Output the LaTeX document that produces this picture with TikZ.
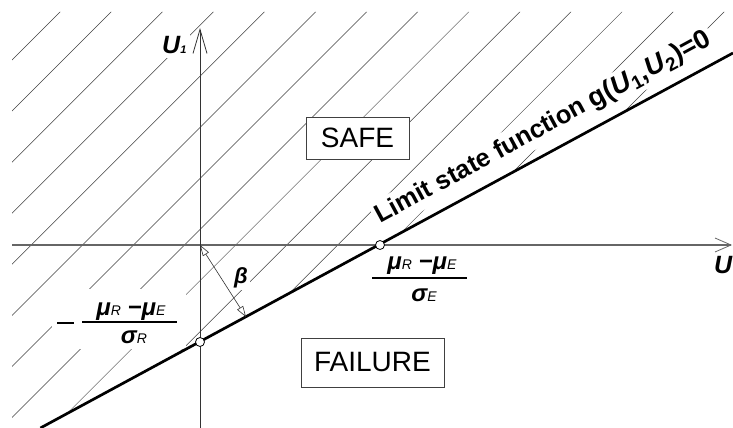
\documentclass[tikz,border=0pt]{standalone}
\usepackage{fontspec}
\setmainfont{Liberation Sans}
\usetikzlibrary{arrows.meta}
\newcommand\smallsub[1]{{\fontsize{14}{14}\selectfont\mdseries #1}}
\begin{document}
\begin{tikzpicture}[x=1pt,y=-1pt,
  hatchline/.style={draw=black!75,line width=0.5pt},
  axisline/.style={draw=black!80,line width=0.9pt},
  limitline/.style={draw=black,line width=2.7pt},
  regionbox/.style={draw=black!75,line width=0.9pt,fill=white,font=\fontsize{28}{30}\selectfont,inner sep=0pt},
  pointmark/.style={circle,draw=black,fill=white,line width=0.8pt,inner sep=0pt,minimum size=9pt},
  greek/.style={font=\fontsize{24}{26}\selectfont\bfseries\itshape,inner sep=1pt},
  axislabel/.style={font=\fontsize{25}{27}\selectfont\bfseries\itshape,inner sep=1pt},
  mask/.style={fill=white},
  fracbar/.style={draw=black,line width=2.6pt}
]
\useasboundingbox (0,0) rectangle (733,428);
\fill[white] (0,0) rectangle (733,428);

% hatching of the safe region
\begin{scope}
  \clip (12,12) -- (733,12) -- (733,53) -- (40.4,428) -- (12,428) -- cycle;
  \foreach \k in {0,...,14}{
    \pgfmathsetmacro\hc{72+51.08*\k}
    \draw[hatchline] ({\hc-440},440) -- ({\hc+10},-10);
  }
\end{scope}

% white area behind the left fraction
\fill[white] (52,289) rectangle (186,349);

% labels
\node[regionbox,minimum width=103pt,minimum height=42pt] (safe) at (357.5,138) {SAFE};
\node[regionbox,minimum width=143pt,minimum height=49pt] (failure) at (372.5,362.5) {FAILURE};
\node[axislabel,anchor=base west,mask,inner sep=4pt] (u1) at (158,54) {U{\fontsize{11}{11}\selectfont 1}};
\node[axislabel,anchor=base west] (u2) at (713,273) {U};
\node[font=\fontsize{22}{24}\selectfont\bfseries\itshape,mask,inner sep=2pt,anchor=base] (beta) at (241,283) {β};
\node[font=\fontsize{25.5}{28}\selectfont\bfseries,rotate=28.43,anchor=base west,mask,inner sep=3pt] (lsf) at (378,225) {Limit state function {\fontsize{27}{28}\selectfont g(\textit{U}\textsubscript{1},\textit{U}\textsubscript{2})=0}};

% right fraction
\node[greek,anchor=base] (numE) at (422,269) {μ\smallsub{R} −μ\smallsub{E}};
\coordinate (barEa) at (372,278);
\coordinate (barEb) at (467,278);
\draw[fracbar] (barEa) -- (barEb);
\node[greek,anchor=base] (denE) at (424,301) {σ\smallsub{E}};

% left fraction
\node[greek,anchor=base] (numR) at (131,315) {μ\smallsub{R} −μ\smallsub{E}};
\coordinate (barRa) at (82,322);
\coordinate (barRb) at (177,322);
\draw[fracbar] (barRa) -- (barRb);
\node[greek,anchor=base] (denR) at (134,343) {σ\smallsub{R}};
\coordinate (minA) at (57,323);
\coordinate (minB) at (74,323);
\draw[fracbar] (minA) -- (minB);

% axes
\coordinate (XL) at (12,245);
\coordinate (XR) at (732,245);
\coordinate (YB) at (200,428);
\coordinate (YT) at (200,28);
\draw[axisline,draw=black!60,line width=1.2pt,-{Straight Barb[length=16pt,width=14pt,line width=0.8pt]}] (XL) -- (XR);
\draw[axisline,-{Straight Barb[length=24pt,width=14pt,line width=0.8pt]}] (YB) -- (YT);

% limit state line
\coordinate (LA) at (40.4,428);
\coordinate (LB) at (733,53);
\draw[limitline] (LA) -- (LB);

% reliability index arrow
\coordinate (O) at (200,245);
\coordinate (F) at (246,317);
\draw[black!80,line width=0.6pt,{Triangle[open,length=11pt,width=7pt]}-{Triangle[open,length=11pt,width=7pt]}] (O) -- (F);

% intersection points
\node[pointmark] (P1) at (200,342) {};
\node[pointmark] (P2) at (380,245) {};
\end{tikzpicture}
\end{document}
